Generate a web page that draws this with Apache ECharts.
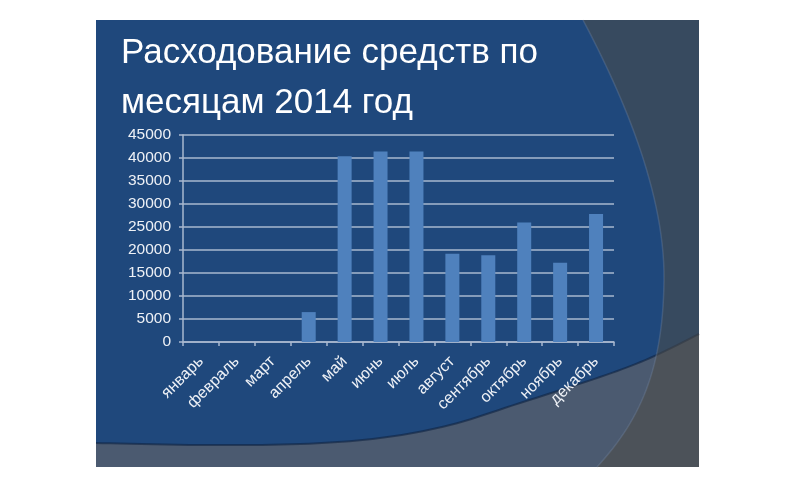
<!DOCTYPE html>
<html>
<head>
<meta charset="utf-8">
<script src="https://cdn.jsdelivr.net/npm/echarts@6/dist/echarts.min.js"></script>
<style>html,body{margin:0;padding:0;background:#fff}#c{width:792px;height:502px}</style>
</head>
<body>
<div id="c"></div>
<script>
var titleText = "Расходование средств по\nмесяцам 2014 год";
var months = ["январь","февраль","март","апрель","май","июнь","июль","август","сентябрь","октябрь","ноябрь","декабрь"];
var spending = [0, 0, 0, 6500, 40400, 41400, 41400, 19200, 18850, 26000, 17250, 27800];
var yMin = 0, yMax = 45000, yStep = 5000;

function cubic(p0, p1, p2, p3, n) {
  var out = [];
  for (var i = 0; i <= n; i++) {
    var t = i / n, u = 1 - t;
    out.push([
      u*u*u*p0[0] + 3*u*u*t*p1[0] + 3*u*t*t*p2[0] + t*t*t*p3[0],
      u*u*u*p0[1] + 3*u*u*t*p1[1] + 3*u*t*t*p2[1] + t*t*t*p3[1]
    ]);
  }
  return out;
}
function catmull(pts, n) {
  var out = [pts[0]];
  for (var i = 0; i < pts.length - 1; i++) {
    var p0 = pts[Math.max(0, i-1)], p1 = pts[i], p2 = pts[i+1], p3 = pts[Math.min(pts.length-1, i+2)];
    var c1 = [p1[0] + (p2[0]-p0[0])/6, p1[1] + (p2[1]-p0[1])/6];
    var c2 = [p2[0] - (p3[0]-p1[0])/6, p2[1] - (p3[1]-p1[1])/6];
    out = out.concat(cubic(p1, c1, c2, p2, n).slice(1));
  }
  return out;
}
// decorative slide shapes
var bandEdge = catmull([[96,443],[200,445],[300,444],[380,438],[450,425],[520,403],[600,377],[650,358],[699,334]], 10);
var bandPoly = bandEdge.concat([[699,467],[96,467]]);
var arcEdge = cubic([583,20],[620,90],[665,190],[664,280],30).concat(cubic([664,280],[663,370],[640,420],[597,467],30).slice(1));
var arcPoly = arcEdge.concat([[699,467],[699,20]]);

var chart = echarts.init(document.getElementById('c'), null, {renderer:'canvas'});
var font = "'Liberation Sans', Arial, sans-serif";
chart.setOption({
  backgroundColor: '#ffffff',
  animation: false,
  graphic: [
    {type:'rect', z:-30, shape:{x:96,y:20,width:603,height:447}, style:{fill:'#1f487c'}},
    {type:'polygon', z:-29, shape:{points:bandPoly}, style:{fill:'#4b5a70'}},
    {type:'polyline', z:-28, shape:{points:bandEdge}, style:{stroke:'rgba(15,35,65,0.6)', lineWidth:2}},
    {type:'polygon', z:-27, shape:{points:arcPoly}, style:{fill:'rgba(78,75,70,0.53)'}},
    {type:'polyline', z:-26, shape:{points:arcEdge}, style:{stroke:'rgba(120,140,170,0.3)', lineWidth:1.5}}
  ],
  title: {
    text: titleText,
    left: 121, top: 28, padding: 0,
    textStyle: {color:'#ffffff', fontFamily:font, fontSize:35, fontWeight:'normal', lineHeight:50}
  },
  grid: {left:183, right:178, top:135, bottom:160, containLabel:false},
  xAxis: {
    type:'category', data: months, boundaryGap:true,
    axisLine:{lineStyle:{color:'#a9b8cf', width:1.5}},
    axisTick:{show:true, length:4, alignWithLabel:false, lineStyle:{color:'#a9b8cf', width:1.5}},
    axisLabel:{rotate:45, color:'#eef1f6', fontFamily:font, fontSize:16, margin:17, interval:0}
  },
  yAxis: {
    type:'value', min:yMin, max:yMax, interval:yStep,
    axisLine:{show:true, lineStyle:{color:'#a9b8cf', width:1.5}},
    axisTick:{show:true, length:4, lineStyle:{color:'#a9b8cf', width:1.5}},
    splitLine:{show:true, lineStyle:{color:'#a9b8cf', width:1.5}},
    axisLabel:{color:'#eef1f6', fontFamily:font, fontSize:15.5, margin:12, formatter:function(v){return String(v);}}
  },
  series: [{
    type:'bar', data: spending, barWidth:14,
    itemStyle:{color:'#4f81bd'}
  }]
});
</script>
</body>
</html>
